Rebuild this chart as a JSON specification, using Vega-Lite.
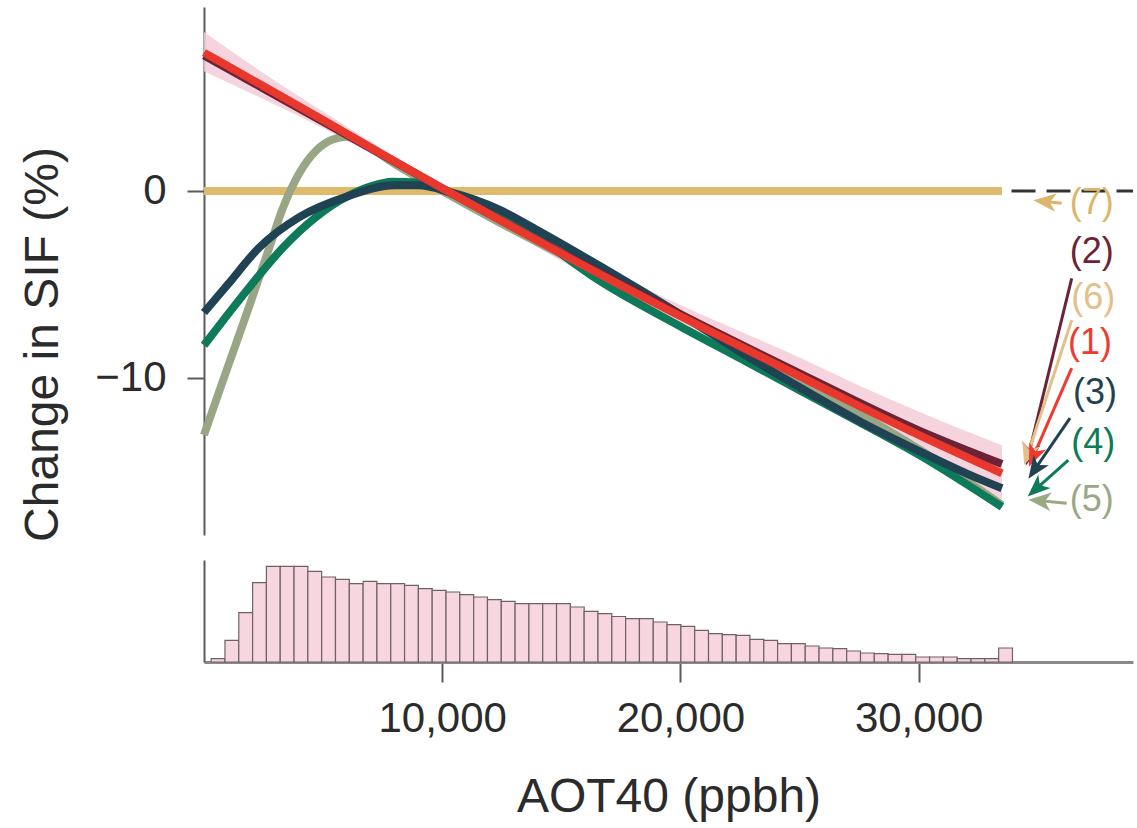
{
  "$schema": "https://vega.github.io/schema/vega-lite/v6.json",
  "background": "white",
  "padding": {"left": 19, "top": 7, "right": 2, "bottom": 2},
  "spacing": 25,
  "bounds": "flush",
  "config": {
    "view": {"stroke": null},
    "font": "Liberation Sans",
    "axis": {"grid": false, "domainColor": "#5a5a5a", "tickColor": "#5a5a5a", "labelColor": "#2b2b2b", "titleColor": "#2b2b2b", "labelFont": "Liberation Sans", "titleFont": "Liberation Sans", "titleFontWeight": "normal"}
  },
  "datasets": {
    "curves": [
      {"s": "1", "x": 0, "y": 7.4}, {"s": "1", "x": 2500, "y": 5.6}, {"s": "1", "x": 5000, "y": 3.8}, {"s": "1", "x": 7500, "y": 1.95}, {"s": "1", "x": 10000, "y": 0.15}, {"s": "1", "x": 12500, "y": -1.6}, {"s": "1", "x": 15000, "y": -3.35}, {"s": "1", "x": 17500, "y": -5.05}, {"s": "1", "x": 20000, "y": -6.7}, {"s": "1", "x": 22500, "y": -8.3}, {"s": "1", "x": 25000, "y": -9.9}, {"s": "1", "x": 27500, "y": -11.5}, {"s": "1", "x": 30000, "y": -13.05}, {"s": "1", "x": 33500, "y": -15.1},
      {"s": "2", "x": 0, "y": 7.25}, {"s": "2", "x": 5000, "y": 3.7}, {"s": "2", "x": 10000, "y": 0.15}, {"s": "2", "x": 15000, "y": -3.3}, {"s": "2", "x": 20000, "y": -6.6}, {"s": "2", "x": 25000, "y": -9.75}, {"s": "2", "x": 30000, "y": -12.8}, {"s": "2", "x": 33500, "y": -14.6},
      {"s": "7", "x": 0, "y": 0}, {"s": "7", "x": 33500, "y": 0},
      {"s": "5", "x": 0, "y": -13.05}, {"s": "5", "x": 1000, "y": -9.4}, {"s": "5", "x": 2000, "y": -5.8}, {"s": "5", "x": 2750, "y": -3.0}, {"s": "5", "x": 3300, "y": -0.95}, {"s": "5", "x": 4000, "y": 0.95}, {"s": "5", "x": 4700, "y": 2.15}, {"s": "5", "x": 5400, "y": 2.75}, {"s": "5", "x": 6000, "y": 2.9}, {"s": "5", "x": 7000, "y": 2.3}, {"s": "5", "x": 8000, "y": 1.45}, {"s": "5", "x": 10000, "y": 0.0}, {"s": "5", "x": 12500, "y": -1.75}, {"s": "5", "x": 15000, "y": -3.4}, {"s": "5", "x": 17500, "y": -5.0}, {"s": "5", "x": 20000, "y": -6.6}, {"s": "5", "x": 22500, "y": -8.3}, {"s": "5", "x": 25000, "y": -10.1}, {"s": "5", "x": 27500, "y": -11.9}, {"s": "5", "x": 30000, "y": -13.8}, {"s": "5", "x": 33500, "y": -16.8},
      {"s": "4", "x": 0, "y": -8.25}, {"s": "4", "x": 1000, "y": -6.6}, {"s": "4", "x": 2000, "y": -5.0}, {"s": "4", "x": 3300, "y": -3.05}, {"s": "4", "x": 4700, "y": -1.4}, {"s": "4", "x": 6000, "y": -0.3}, {"s": "4", "x": 7000, "y": 0.25}, {"s": "4", "x": 7900, "y": 0.5}, {"s": "4", "x": 9000, "y": 0.45}, {"s": "4", "x": 10000, "y": 0.05}, {"s": "4", "x": 12000, "y": -1.05}, {"s": "4", "x": 14000, "y": -2.5}, {"s": "4", "x": 16600, "y": -4.8}, {"s": "4", "x": 20000, "y": -7.25}, {"s": "4", "x": 22500, "y": -8.95}, {"s": "4", "x": 25000, "y": -10.65}, {"s": "4", "x": 27500, "y": -12.35}, {"s": "4", "x": 30000, "y": -14.1}, {"s": "4", "x": 33500, "y": -16.9},
      {"s": "3", "x": 0, "y": -6.5}, {"s": "3", "x": 1000, "y": -5.0}, {"s": "3", "x": 2300, "y": -3.05}, {"s": "3", "x": 4000, "y": -1.4}, {"s": "3", "x": 6000, "y": -0.3}, {"s": "3", "x": 8000, "y": 0.3}, {"s": "3", "x": 9000, "y": 0.3}, {"s": "3", "x": 10300, "y": -0.05}, {"s": "3", "x": 12400, "y": -1.0}, {"s": "3", "x": 14000, "y": -2.1}, {"s": "3", "x": 16600, "y": -4.0}, {"s": "3", "x": 20000, "y": -6.6}, {"s": "3", "x": 22500, "y": -8.6}, {"s": "3", "x": 25000, "y": -10.5}, {"s": "3", "x": 27500, "y": -12.3}, {"s": "3", "x": 30000, "y": -13.9}, {"s": "3", "x": 32000, "y": -15.1}, {"s": "3", "x": 33500, "y": -15.9}
    ],
    "band": [
      {"x": 0, "lo": 6.4, "hi": 8.5}, {"x": 2500, "lo": 4.9, "hi": 6.3}, {"x": 5000, "lo": 3.35, "hi": 4.25}, {"x": 7500, "lo": 1.65, "hi": 2.25}, {"x": 10000, "lo": -0.1, "hi": 0.4}, {"x": 12500, "lo": -1.9, "hi": -1.3}, {"x": 15000, "lo": -3.75, "hi": -2.95}, {"x": 17500, "lo": -5.55, "hi": -4.55}, {"x": 20000, "lo": -7.3, "hi": -6.1}, {"x": 22500, "lo": -9.1, "hi": -7.5}, {"x": 25000, "lo": -10.9, "hi": -8.9}, {"x": 27500, "lo": -12.6, "hi": -10.4}, {"x": 30000, "lo": -14.3, "hi": -11.8}, {"x": 33500, "lo": -16.5, "hi": -13.6}
    ],
    "dash": [{"x": 33900, "x2": 39000, "y": 0}],
    "arrows": [
      {"s": "7", "label": "(7)", "lx": 37267, "ly": -0.66, "sx": 36007, "sy": -0.66, "hx": 35330, "hy": -0.56},
      {"s": "2", "label": "(2)", "lx": 37267, "ly": -3.25, "sx": 36427, "sy": -4.67, "hx": 34630, "hy": -14.05},
      {"s": "6", "label": "(6)", "lx": 37334, "ly": -5.74, "sx": 36427, "sy": -6.9, "hx": 34590, "hy": -14.05},
      {"s": "1", "label": "(1)", "lx": 37196, "ly": -8.14, "sx": 36427, "sy": -9.48, "hx": 34830, "hy": -14.15},
      {"s": "3", "label": "(3)", "lx": 37406, "ly": -10.82, "sx": 36356, "sy": -12.15, "hx": 34900, "hy": -14.85},
      {"s": "4", "label": "(4)", "lx": 37334, "ly": -13.49, "sx": 36285, "sy": -14.39, "hx": 34960, "hy": -15.9},
      {"s": "5", "label": "(5)", "lx": 37267, "ly": -16.52, "sx": 36218, "sy": -16.7, "hx": 35120, "hy": -16.57}
    ],
    "hist": [
      {"x0": 300, "x1": 880, "count": 33}, {"x0": 880, "x1": 1460, "count": 217}, {"x0": 1460, "x1": 2040, "count": 493}, {"x0": 2040, "x1": 2620, "count": 793}, {"x0": 2620, "x1": 3200, "count": 957}, {"x0": 3200, "x1": 3780, "count": 957}, {"x0": 3780, "x1": 4360, "count": 957}, {"x0": 4360, "x1": 4940, "count": 907}, {"x0": 4940, "x1": 5520, "count": 850}, {"x0": 5520, "x1": 6100, "count": 827},
      {"x0": 6100, "x1": 6680, "count": 783}, {"x0": 6680, "x1": 7260, "count": 807}, {"x0": 7260, "x1": 7840, "count": 783}, {"x0": 7840, "x1": 8420, "count": 783}, {"x0": 8420, "x1": 9000, "count": 767}, {"x0": 9000, "x1": 9580, "count": 734}, {"x0": 9580, "x1": 10160, "count": 717}, {"x0": 10160, "x1": 10740, "count": 700}, {"x0": 10740, "x1": 11320, "count": 674}, {"x0": 11320, "x1": 11900, "count": 650},
      {"x0": 11900, "x1": 12480, "count": 624}, {"x0": 12480, "x1": 13060, "count": 607}, {"x0": 13060, "x1": 13640, "count": 584}, {"x0": 13640, "x1": 14220, "count": 584}, {"x0": 14220, "x1": 14800, "count": 584}, {"x0": 14800, "x1": 15380, "count": 584}, {"x0": 15380, "x1": 15960, "count": 550}, {"x0": 15960, "x1": 16540, "count": 507}, {"x0": 16540, "x1": 17120, "count": 484}, {"x0": 17120, "x1": 17700, "count": 455},
      {"x0": 17700, "x1": 18280, "count": 434}, {"x0": 18280, "x1": 18860, "count": 434}, {"x0": 18860, "x1": 19440, "count": 400}, {"x0": 19440, "x1": 20020, "count": 374}, {"x0": 20020, "x1": 20600, "count": 357}, {"x0": 20600, "x1": 21180, "count": 317}, {"x0": 21180, "x1": 21760, "count": 284}, {"x0": 21760, "x1": 22340, "count": 274}, {"x0": 22340, "x1": 22920, "count": 267}, {"x0": 22920, "x1": 23500, "count": 227},
      {"x0": 23500, "x1": 24080, "count": 217}, {"x0": 24080, "x1": 24660, "count": 184}, {"x0": 24660, "x1": 25240, "count": 184}, {"x0": 25240, "x1": 25820, "count": 160}, {"x0": 25820, "x1": 26400, "count": 140}, {"x0": 26400, "x1": 26980, "count": 134}, {"x0": 26980, "x1": 27560, "count": 110}, {"x0": 27560, "x1": 28140, "count": 90}, {"x0": 28140, "x1": 28720, "count": 84}, {"x0": 28720, "x1": 29300, "count": 77},
      {"x0": 29300, "x1": 29880, "count": 77}, {"x0": 29880, "x1": 30460, "count": 50}, {"x0": 30460, "x1": 31040, "count": 50}, {"x0": 31040, "x1": 31620, "count": 50}, {"x0": 31620, "x1": 32200, "count": 34}, {"x0": 32200, "x1": 32780, "count": 34}, {"x0": 32780, "x1": 33360, "count": 34}, {"x0": 33360, "x1": 33940, "count": 140}
    ]
  },
  "vconcat": [
    {
      "width": 929,
      "height": 528,
      "layer": [
        {
          "data": {"name": "band"},
          "mark": {"type": "area", "color": "#f4cdd8", "opacity": 0.85, "interpolate": "monotone"},
          "encoding": {
            "x": {"field": "x", "type": "quantitative", "scale": {"domain": [0, 39000], "nice": false, "zero": false}, "axis": null},
            "y": {"field": "lo", "type": "quantitative", "scale": {"domain": [-18.4, 9.84], "nice": false, "zero": false},
                  "axis": {"values": [0, -10], "title": "Change in SIF (%)", "titleFontSize": 48, "labelFontSize": 42, "tickSize": 17, "labelPadding": 21, "tickWidth": 2, "domainWidth": 2, "titleX": -137, "titleY": 337, "labelFlush": false}},
            "y2": {"field": "hi"}
          }
        },
        {
          "data": {"name": "dash"},
          "mark": {"type": "rule", "color": "#333333", "strokeWidth": 3, "strokeDash": [24, 11]},
          "encoding": {"x": {"field": "x", "type": "quantitative"}, "x2": {"field": "x2"}, "y": {"field": "y", "type": "quantitative"}}
        },
        {
          "data": {"name": "curves"}, "transform": [{"filter": "datum.s === '7'"}],
          "mark": {"type": "line", "color": "#dfb96c", "strokeWidth": 8},
          "encoding": {"x": {"field": "x", "type": "quantitative"}, "y": {"field": "y", "type": "quantitative"}}
        },
        {
          "data": {"name": "curves"}, "transform": [{"filter": "datum.s === '5'"}],
          "mark": {"type": "line", "color": "#98a685", "strokeWidth": 8, "interpolate": "monotone"},
          "encoding": {"x": {"field": "x", "type": "quantitative"}, "y": {"field": "y", "type": "quantitative"}}
        },
        {
          "data": {"name": "curves"}, "transform": [{"filter": "datum.s === '4'"}],
          "mark": {"type": "line", "color": "#0d7a59", "strokeWidth": 8, "interpolate": "monotone"},
          "encoding": {"x": {"field": "x", "type": "quantitative"}, "y": {"field": "y", "type": "quantitative"}}
        },
        {
          "data": {"name": "curves"}, "transform": [{"filter": "datum.s === '3'"}],
          "mark": {"type": "line", "color": "#1f4353", "strokeWidth": 8, "interpolate": "monotone"},
          "encoding": {"x": {"field": "x", "type": "quantitative"}, "y": {"field": "y", "type": "quantitative"}}
        },
        {
          "data": {"name": "curves"}, "transform": [{"filter": "datum.s === '2'"}],
          "mark": {"type": "line", "color": "#6b2335", "strokeWidth": 8, "interpolate": "monotone"},
          "encoding": {"x": {"field": "x", "type": "quantitative"}, "y": {"field": "y", "type": "quantitative"}}
        },
        {
          "data": {"name": "curves"}, "transform": [{"filter": "datum.s === '1'"}],
          "mark": {"type": "line", "color": "#e8382d", "strokeWidth": 8, "interpolate": "monotone"},
          "encoding": {"x": {"field": "x", "type": "quantitative"}, "y": {"field": "y", "type": "quantitative"}}
        },
        {
          "data": {"name": "arrows"},
          "mark": {"type": "rule", "strokeWidth": 3},
          "encoding": {
            "x": {"field": "sx", "type": "quantitative"}, "y": {"field": "sy", "type": "quantitative"},
            "x2": {"field": "hx"}, "y2": {"field": "hy"},
            "color": {"field": "s", "type": "nominal", "legend": null, "scale": {"domain": ["1", "2", "3", "4", "5", "6", "7"], "range": ["#ef3b2f", "#6b2335", "#1f4353", "#0d7a59", "#9aa886", "#e4c089", "#dcb56a"]}}
          }
        },
        {"data": {"name": "arrows"}, "transform": [{"filter": "datum.s === '7'"}],
         "mark": {"type": "point", "shape": "M0,-1L0.75,0.85L0,0.35L-0.75,0.85Z", "filled": true, "opacity": 1, "size": 600, "angle": 276},
         "encoding": {"x": {"field": "hx", "type": "quantitative"}, "y": {"field": "hy", "type": "quantitative"}, "color": {"field": "s", "type": "nominal", "legend": null}}},
        {"data": {"name": "arrows"}, "transform": [{"filter": "datum.s === '2'"}],
         "mark": {"type": "point", "shape": "M0,-1L0.75,0.85L0,0.35L-0.75,0.85Z", "filled": true, "opacity": 1, "size": 600, "angle": 193.7},
         "encoding": {"x": {"field": "hx", "type": "quantitative"}, "y": {"field": "hy", "type": "quantitative"}, "color": {"field": "s", "type": "nominal", "legend": null}}},
        {"data": {"name": "arrows"}, "transform": [{"filter": "datum.s === '6'"}],
         "mark": {"type": "point", "shape": "M0,-1L0.75,0.85L0,0.35L-0.75,0.85Z", "filled": true, "opacity": 1, "size": 600, "angle": 198},
         "encoding": {"x": {"field": "hx", "type": "quantitative"}, "y": {"field": "hy", "type": "quantitative"}, "color": {"field": "s", "type": "nominal", "legend": null}}},
        {"data": {"name": "arrows"}, "transform": [{"filter": "datum.s === '1'"}],
         "mark": {"type": "point", "shape": "M0,-1L0.75,0.85L0,0.35L-0.75,0.85Z", "filled": true, "opacity": 1, "size": 600, "angle": 203.3},
         "encoding": {"x": {"field": "hx", "type": "quantitative"}, "y": {"field": "hy", "type": "quantitative"}, "color": {"field": "s", "type": "nominal", "legend": null}}},
        {"data": {"name": "arrows"}, "transform": [{"filter": "datum.s === '3'"}],
         "mark": {"type": "point", "shape": "M0,-1L0.75,0.85L0,0.35L-0.75,0.85Z", "filled": true, "opacity": 1, "size": 600, "angle": 214.4},
         "encoding": {"x": {"field": "hx", "type": "quantitative"}, "y": {"field": "hy", "type": "quantitative"}, "color": {"field": "s", "type": "nominal", "legend": null}}},
        {"data": {"name": "arrows"}, "transform": [{"filter": "datum.s === '4'"}],
         "mark": {"type": "point", "shape": "M0,-1L0.75,0.85L0,0.35L-0.75,0.85Z", "filled": true, "opacity": 1, "size": 600, "angle": 227.6},
         "encoding": {"x": {"field": "hx", "type": "quantitative"}, "y": {"field": "hy", "type": "quantitative"}, "color": {"field": "s", "type": "nominal", "legend": null}}},
        {"data": {"name": "arrows"}, "transform": [{"filter": "datum.s === '5'"}],
         "mark": {"type": "point", "shape": "M0,-1L0.75,0.85L0,0.35L-0.75,0.85Z", "filled": true, "opacity": 1, "size": 600, "angle": 275.4},
         "encoding": {"x": {"field": "hx", "type": "quantitative"}, "y": {"field": "hy", "type": "quantitative"}, "color": {"field": "s", "type": "nominal", "legend": null}}},
        {
          "data": {"name": "arrows"},
          "mark": {"type": "text", "fontSize": 36, "font": "Liberation Sans", "align": "center", "baseline": "middle"},
          "encoding": {
            "x": {"field": "lx", "type": "quantitative"}, "y": {"field": "ly", "type": "quantitative"},
            "text": {"field": "label"},
            "color": {"field": "s", "type": "nominal", "legend": null}
          }
        }
      ]
    },
    {
      "width": 929,
      "height": 102,
      "data": {"name": "hist"},
      "mark": {"type": "rect", "fill": "#f7d6df", "stroke": "#6e6266", "strokeWidth": 1.2},
      "encoding": {
        "x": {"field": "x0", "type": "quantitative", "scale": {"domain": [0, 39000], "nice": false, "zero": false},
              "axis": {"values": [10000, 20000, 30000], "format": ",d", "title": "AOT40 (ppbh)", "titleFontSize": 48, "labelFontSize": 42, "tickSize": 20, "labelPadding": 16, "titlePadding": 34, "tickWidth": 2, "domainWidth": 3, "domainColor": "#8a8a8a", "labelFlush": false}},
        "x2": {"field": "x1"},
        "y": {"field": "count", "type": "quantitative", "scale": {"domain": [0, 1020], "nice": false},
              "axis": {"title": null, "labels": false, "ticks": false, "domain": true, "domainWidth": 2}},
        "y2": {"datum": 0}
      }
    }
  ]
}
